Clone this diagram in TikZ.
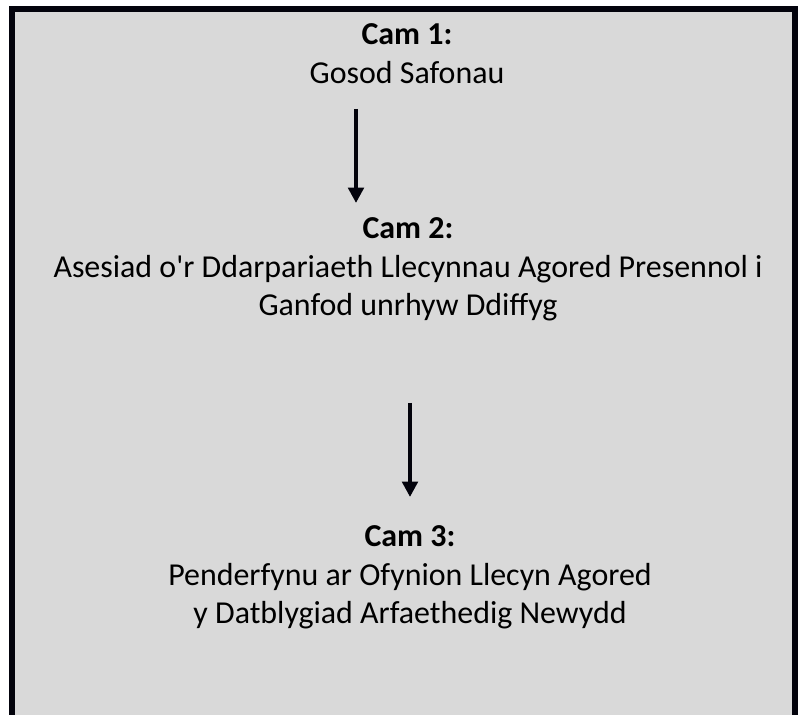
\documentclass[tikz,border=0pt]{standalone}
\usepackage{fontspec}
\setmainfont{Carlito}[Ligatures=TeXOff]
\usetikzlibrary{arrows.meta,positioning}

\definecolor{panelgray}{HTML}{D9D9D9}
\definecolor{frameblack}{HTML}{03030C}

\begin{document}
\begin{tikzpicture}[
    x=0.025cm, y=-0.025cm,
    stage/.style={anchor=north, inner sep=0pt, align=center, font=\fontsize{22.7}{27.6}\selectfont},
    flow/.style={-{Triangle[length=11pt, width=11pt]}, line width=2.8pt, frameblack}
]
    \useasboundingbox (0,0) rectangle (798,715);

    % Panel
    \fill[panelgray] (12,9) rectangle (795,715);
    \draw[frameblack, line width=4.25pt] (12,715) -- (12,9) -- (795,9) -- (795,715);

    % Stages
    \node[stage] (cam1) at (407,23) {\textbf{Cam 1:}\\Gosod Safonau};
    \node[stage] (cam2) at (408,217) {\textbf{Cam 2:}\\Asesiad o'r Ddarpariaeth Llecynnau Agored Presennol i\\Ganfod unrhyw Ddiffyg};
    \node[stage] (cam3) at (410,525) {\textbf{Cam 3:}\\Penderfynu ar Ofynion Llecyn Agored\\y Datblygiad Arfaethedig Newydd};

    % Arrow ends
    \coordinate (a1top) at (356,109);
    \coordinate (a1bot) at (356,203);
    \coordinate (a2top) at (410,403);
    \coordinate (a2bot) at (410,497);

    % Arrows
    \draw[flow] (a1top) -- (a1bot);
    \draw[flow] (a2top) -- (a2bot);
\end{tikzpicture}
\end{document}
